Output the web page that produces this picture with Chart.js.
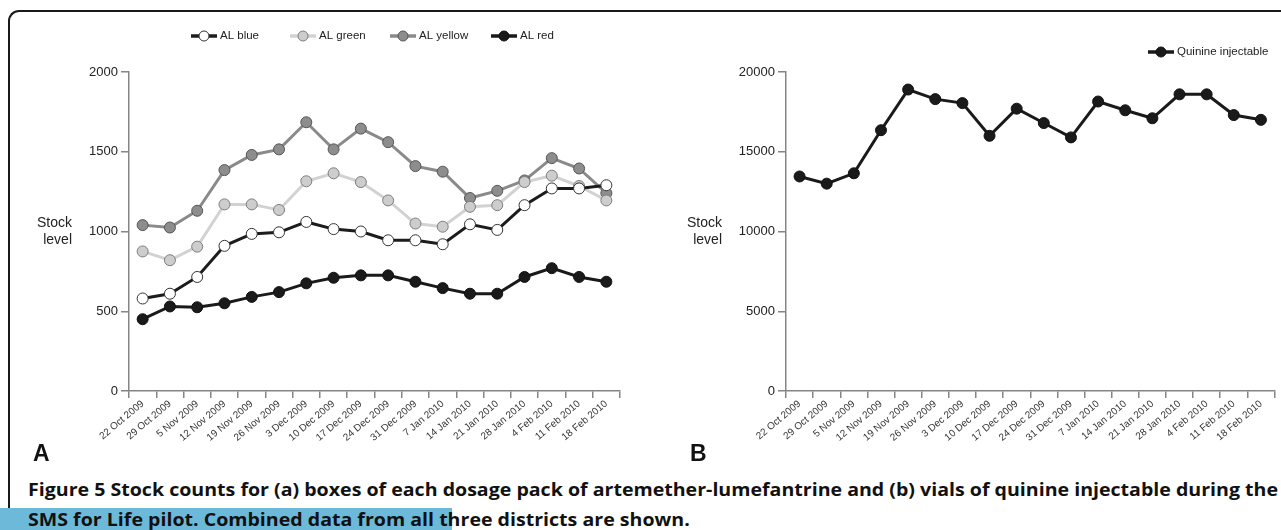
<!DOCTYPE html>
<html>
<head>
<meta charset="utf-8">
<script src="https://cdn.jsdelivr.net/npm/chart.js@4.4.0/dist/chart.umd.min.js"></script>
<style>
  html, body { margin: 0; padding: 0; background: #fff; }
  body { width: 1281px; height: 530px; position: relative; overflow: hidden; font-family: "Liberation Sans", Arial, sans-serif; color: #222; }
  .frame { position: absolute; left: 8px; top: 10px; width: 1300px; height: 560px; border-top: 2px solid #1a1a1a; border-left: 2px solid #1a1a1a; border-top-left-radius: 11px; }
  .wrap { position: absolute; top: 0; }
  .ylab { position: absolute; top: 214px; width: 60px; font-size: 14px; line-height: 17px; text-align: right; }
  .panel { position: absolute; top: 440px; font: bold 23px "Liberation Sans", Arial, sans-serif; color: #111; }
  .hl { position: absolute; left: 0; top: 508px; width: 452px; height: 22px; background: #6cb9d9; }
  .cap { position: absolute; left: 28px; font: bold 17.5px "Open Sans", sans-serif; line-height: 22px; white-space: nowrap; transform-origin: 0 0; color: #111; }
</style>
</head>
<body>
<div class="frame"></div>
<div class="hl"></div>

<div class="wrap" style="left:0"><canvas id="chartA" width="640" height="450"></canvas></div>
<div class="wrap" style="left:640px"><canvas id="chartB" width="641" height="450"></canvas></div>

<div class="ylab" style="left:12px">Stock<br>level</div>
<div class="ylab" style="left:662px">Stock<br>level</div>

<div class="panel" style="left:33px">A</div>
<div class="panel" style="left:690px">B</div>

<div class="cap" id="cap1" style="top:478px">Figure 5 Stock counts for (a) boxes of each dosage pack of artemether-lumefantrine and (b) vials of quinine injectable during the</div>
<div class="cap" id="cap2" style="top:508px">SMS for Life pilot. Combined data from all three districts are shown.</div>

<script>
// Semanas de contagem
const weeks = ['22 Oct 2009', '29 Oct 2009', '5 Nov 2009', '12 Nov 2009', '19 Nov 2009', '26 Nov 2009',
  '3 Dec 2009', '10 Dec 2009', '17 Dec 2009', '24 Dec 2009', '31 Dec 2009', '7 Jan 2010',
  '14 Jan 2010', '21 Jan 2010', '28 Jan 2010', '4 Feb 2010', '11 Feb 2010', '18 Feb 2010'];

// Painel A: caixas de AL por embalagem
const alBlue   = [580, 610, 715, 910, 985, 995, 1060, 1015, 1000, 945, 945, 920, 1045, 1010, 1165, 1270, 1270, 1290];
const alGreen  = [875, 820, 905, 1170, 1170, 1135, 1315, 1365, 1310, 1195, 1050, 1030, 1155, 1165, 1310, 1350, 1285, 1195];
const alYellow = [1040, 1025, 1130, 1385, 1480, 1515, 1685, 1515, 1645, 1560, 1410, 1375, 1210, 1255, 1320, 1460, 1395, 1240];
const alRed    = [450, 530, 525, 550, 590, 620, 675, 710, 725, 725, 685, 645, 610, 610, 715, 770, 715, 685];

// Painel B: frascos de quinina injetável
const quinine = [13450, 13000, 13650, 16350, 18900, 18300, 18050, 16000, 17700, 16800, 15900, 18150, 17600, 17100, 18600, 18600, 17300, 17000];

const ticksA = [0, 500, 1000, 1500, 2000];
const ticksB = [0, 5000, 10000, 15000, 20000];

const axisColor = '#858585';
const fontFamily = '"Liberation Sans", Arial, sans-serif';

/**
 * Legenda com símbolo de linha + círculo, desenhada no canvas.
 */
const symbolLegend = {
    id: 'symbolLegend',
    afterDraw(chart, args, opts) {
        const ctx = chart.ctx;
        ctx.save();
        chart.data.datasets.forEach((ds, i) => {
            const x = opts.xs[i];
            const y = opts.y;
            ctx.strokeStyle = ds.borderColor;
            ctx.lineWidth = 3.5;
            ctx.beginPath();
            ctx.moveTo(x, y);
            ctx.lineTo(x + 26, y);
            ctx.stroke();
            ctx.beginPath();
            ctx.arc(x + 13, y, 5, 0, Math.PI * 2);
            ctx.fillStyle = ds.pointBackgroundColor;
            ctx.fill();
            ctx.lineWidth = 1;
            ctx.strokeStyle = ds.pointBorderColor;
            ctx.stroke();
            ctx.fillStyle = '#222';
            ctx.font = '11.5px ' + fontFamily;
            ctx.textBaseline = 'middle';
            ctx.fillText(ds.label, x + 29, y);
        });
        ctx.restore();
    }
};

function lineSet(label, data, line, fill, edge) {
    return {
        label: label,
        data: data,
        borderColor: line,
        borderWidth: 3,
        pointRadius: 5.5,
        pointBorderWidth: 1,
        pointBackgroundColor: fill,
        pointBorderColor: edge,
        tension: 0
    };
}

function makeOptions(tickValues, yWidth, padRight, legendXs, legendY) {
    return {
        responsive: false,
        animation: false,
        layout: { padding: { top: 72, right: padRight, left: 0, bottom: 0 } },
        plugins: {
            legend: { display: false },
            tooltip: { enabled: false },
            symbolLegend: { xs: legendXs, y: legendY }
        },
        scales: {
            x: {
                type: 'category',
                offset: true,
                grid: { drawOnChartArea: false, drawTicks: true, tickLength: 7, color: axisColor, lineWidth: 1.5, offset: true },
                border: { color: axisColor, width: 1.5 },
                ticks: { color: '#333', font: { size: 10, family: fontFamily }, minRotation: 40, maxRotation: 40, autoSkip: false, padding: 0 },
                afterFit(scale) { scale.height = 59; }
            },
            y: {
                min: tickValues[0],
                max: tickValues[tickValues.length - 1],
                afterBuildTicks(scale) { scale.ticks = tickValues.map(v => ({ value: v })); },
                grid: { drawOnChartArea: false, drawTicks: true, tickLength: 8, color: axisColor, lineWidth: 1.5 },
                border: { color: axisColor, width: 1.5 },
                ticks: { color: '#222', font: { size: 13, family: fontFamily }, padding: 3, callback: v => String(v) },
                afterFit(scale) { scale.width = yWidth; }
            }
        }
    };
}

new Chart(document.getElementById('chartA').getContext('2d'), {
    type: 'line',
    data: {
        labels: weeks,
        datasets: [
            lineSet('AL blue', alBlue, '#1c1c1c', '#ffffff', '#333333'),
            lineSet('AL green', alGreen, '#d2d2d2', '#cdcdcd', '#7c7c7c'),
            lineSet('AL yellow', alYellow, '#8a8a8a', '#8d8d8d', '#555555'),
            lineSet('AL red', alRed, '#1a1a1a', '#1a1a1a', '#111111')
        ]
    },
    options: makeOptions(ticksA, 129, 20, [191, 290, 390, 491], 36),
    plugins: [symbolLegend]
});

new Chart(document.getElementById('chartB').getContext('2d'), {
    type: 'line',
    data: {
        labels: weeks,
        datasets: [lineSet('Quinine injectable', quinine, '#1a1a1a', '#1a1a1a', '#111111')]
    },
    options: makeOptions(ticksB, 146, 3, [508], 52),
    plugins: [symbolLegend]
});

// Ajusta a legenda da figura à largura da página
const cap1 = document.getElementById('cap1');
const cap2 = document.getElementById('cap2');
const k = 1250 / cap1.getBoundingClientRect().width;
cap1.style.transform = 'scaleX(' + k + ')';
cap2.style.transform = 'scaleX(' + k + ')';
</script>
</body>
</html>
